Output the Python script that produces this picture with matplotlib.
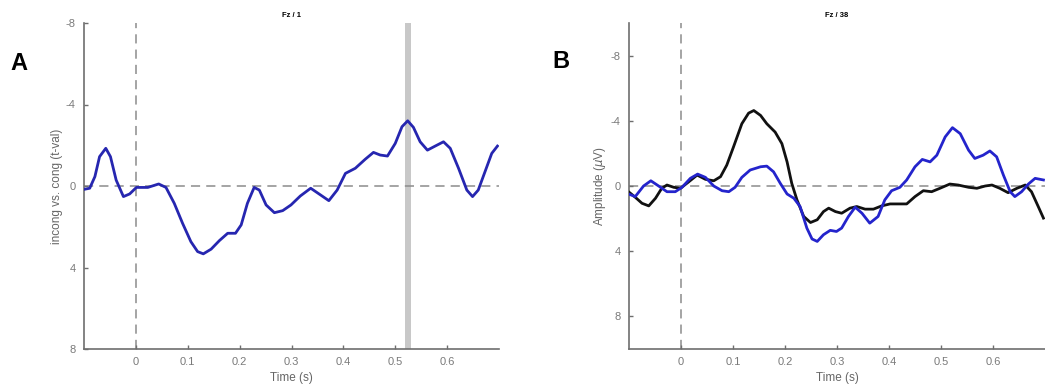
"""ERP figure: incongruent vs congruent t-values (A) and amplitudes (B) at Fz."""

import matplotlib
matplotlib.use("Agg")
import matplotlib.pyplot as plt

# ---- panel A: incong vs. cong t-values (Fz / 1) ----
time_a = [-0.099, -0.089, -0.079, -0.070, -0.058, -0.049, -0.038, -0.024, -0.012, 0.001,
          0.023, 0.044, 0.058, 0.074, 0.090, 0.106, 0.119, 0.130, 0.145, 0.161,
          0.177, 0.192, 0.203, 0.215, 0.228, 0.238, 0.251, 0.267, 0.283, 0.299,
          0.317, 0.337, 0.356, 0.372, 0.388, 0.404, 0.423, 0.442, 0.458, 0.471,
          0.485, 0.500, 0.513, 0.524, 0.535, 0.548, 0.562, 0.577, 0.593, 0.606,
          0.622, 0.638, 0.649, 0.660, 0.673, 0.686, 0.697]
tval_a = [0.16, 0.11, -0.46, -1.44, -1.85, -1.44, -0.29, 0.52, 0.39, 0.07,
          0.07, -0.10, 0.07, 0.85, 1.83, 2.73, 3.22, 3.33, 3.10, 2.68,
          2.32, 2.32, 1.91, 0.85, 0.07, 0.20, 0.93, 1.31, 1.21, 0.93,
          0.49, 0.11, 0.44, 0.72, 0.20, -0.62, -0.87, -1.31, -1.65, -1.52,
          -1.47, -2.09, -2.91, -3.20, -2.88, -2.17, -1.76, -1.96, -2.17, -1.85,
          -0.87, 0.20, 0.52, 0.20, -0.70, -1.60, -1.96]
sig_window = (0.519, 0.530)

# ---- panel B: amplitudes (Fz / 38) ----
time_black = [-0.101, -0.088, -0.075, -0.062, -0.049, -0.037, -0.027, -0.014, -0.001, 0.015,
              0.031, 0.047, 0.063, 0.076, 0.088, 0.101, 0.117, 0.130, 0.140, 0.153,
              0.165, 0.181, 0.194, 0.204, 0.213, 0.223, 0.236, 0.249, 0.262, 0.274,
              0.284, 0.297, 0.309, 0.325, 0.338, 0.354, 0.370, 0.386, 0.402, 0.418,
              0.434, 0.450, 0.466, 0.482, 0.498, 0.517, 0.533, 0.553, 0.569, 0.585,
              0.598, 0.613, 0.629, 0.646, 0.662, 0.674, 0.687, 0.697]
amp_black = [0.35, 0.69, 1.06, 1.22, 0.75, 0.14, -0.06, 0.08, 0.14, -0.26,
             -0.67, -0.41, -0.32, -0.57, -1.28, -2.40, -3.82, -4.47, -4.63, -4.33,
             -3.82, -3.31, -2.60, -1.48, -0.16, 0.85, 1.87, 2.24, 2.07, 1.57,
             1.36, 1.57, 1.67, 1.36, 1.26, 1.42, 1.42, 1.22, 1.10, 1.10,
             1.10, 0.65, 0.29, 0.35, 0.14, -0.12, -0.06, 0.08, 0.14, 0.00,
             -0.06, 0.14, 0.41, 0.14, -0.06, 0.35, 1.26, 1.97]

time_blue = [-0.101, -0.088, -0.072, -0.058, -0.043, -0.027, -0.011, 0.002, 0.018, 0.032,
             0.047, 0.063, 0.079, 0.092, 0.104, 0.117, 0.133, 0.153, 0.165, 0.178,
             0.191, 0.204, 0.217, 0.229, 0.242, 0.252, 0.262, 0.274, 0.287, 0.299,
             0.309, 0.322, 0.335, 0.348, 0.363, 0.379, 0.392, 0.405, 0.421, 0.434,
             0.450, 0.464, 0.479, 0.492, 0.508, 0.522, 0.537, 0.553, 0.565, 0.581,
             0.594, 0.607, 0.620, 0.633, 0.642, 0.655, 0.668, 0.681, 0.697]
amp_blue = [0.49, 0.65, 0.00, -0.32, 0.00, 0.35, 0.35, 0.08, -0.47, -0.73,
            -0.53, 0.00, 0.29, 0.35, 0.08, -0.53, -0.98, -1.18, -1.22, -0.87,
            -0.16, 0.49, 0.75, 1.26, 2.58, 3.25, 3.40, 2.99, 2.72, 2.79,
            2.58, 1.87, 1.30, 1.67, 2.28, 1.87, 0.85, 0.29, 0.08, -0.37,
            -1.18, -1.63, -1.48, -1.89, -3.01, -3.58, -3.21, -2.20, -1.69, -1.89,
            -2.15, -1.79, -0.67, 0.35, 0.65, 0.35, -0.12, -0.47, -0.37]

xticks = [0, 0.1, 0.2, 0.3, 0.4, 0.5, 0.6]
xticklabels = ["0", "0.1", "0.2", "0.3", "0.4", "0.5", "0.6"]
yticks = [-8, -4, 0, 4, 8]

plt.rcParams["font.family"] = ["Liberation Sans", "DejaVu Sans"]

GRAY = "#7a7a7a"
SPINE = "#6e6e6e"


def style_axes(ax, ylim):
    ax.set_xlim(-0.1, 0.7)
    ax.set_ylim(ylim[1], ylim[0])  # negative up, EEG style
    ax.set_xticks(xticks)
    ax.set_xticklabels(xticklabels)
    ax.set_yticks(yticks)
    ax.set_yticklabels([str(v) for v in yticks])
    for side in ("top", "right"):
        ax.spines[side].set_visible(False)
    for side in ("left", "bottom"):
        ax.spines[side].set_color(SPINE)
        ax.spines[side].set_linewidth(1.2)
    ax.tick_params(direction="in", length=3, width=1, colors=SPINE,
                   labelcolor=GRAY, labelsize=8, pad=6)
    ax.axhline(0, color="#8c8c8c", linestyle=(0, (6, 4)), linewidth=1.1, zorder=1)
    ax.axvline(0, color="#8c8c8c", linestyle=(0, (6, 4)), linewidth=1.1, zorder=1)
    ax.set_xlabel("Time (s)", color="#666666", fontsize=8.5, labelpad=3)


fig = plt.figure(figsize=(10.45, 3.92), dpi=100)
ax_a = fig.add_axes([84 / 1045, 43 / 392, 415 / 1045, 326 / 392])
ax_b = fig.add_axes([629 / 1045, 43 / 392, 416 / 1045, 326 / 392])

# panel A
style_axes(ax_a, (-8, 8))
ax_a.axvspan(*sig_window, color="#c8c8c8", zorder=0, linewidth=0)
ax_a.plot(time_a, tval_a, color="#2626b0", linewidth=2, zorder=3,
          solid_joinstyle="round")
ax_a.set_ylabel("incong vs. cong (t-val)", color="#666666", fontsize=8.5, labelpad=2)
ax_a.set_title("Fz / 1", fontsize=5.5, fontweight="bold", pad=4)

# panel B
style_axes(ax_b, (-10, 10))
ax_b.plot(time_black, amp_black, color="#111111", linewidth=2, zorder=3,
          solid_joinstyle="round")
ax_b.plot(time_blue, amp_blue, color="#2424cc", linewidth=2, zorder=4,
          solid_joinstyle="round")
ax_b.set_ylabel("Amplitude ($\\mu$V)", color="#666666", fontsize=8.5, labelpad=2)
ax_b.set_title("Fz / 38", fontsize=5.5, fontweight="bold", pad=4)

fig.text(10 / 1045, 1 - 63 / 392, "A", fontsize=17, fontweight="bold", va="center")
fig.text(552 / 1045, 1 - 61 / 392, "B", fontsize=17, fontweight="bold", va="center")

fig.savefig("out.png", dpi=100)
